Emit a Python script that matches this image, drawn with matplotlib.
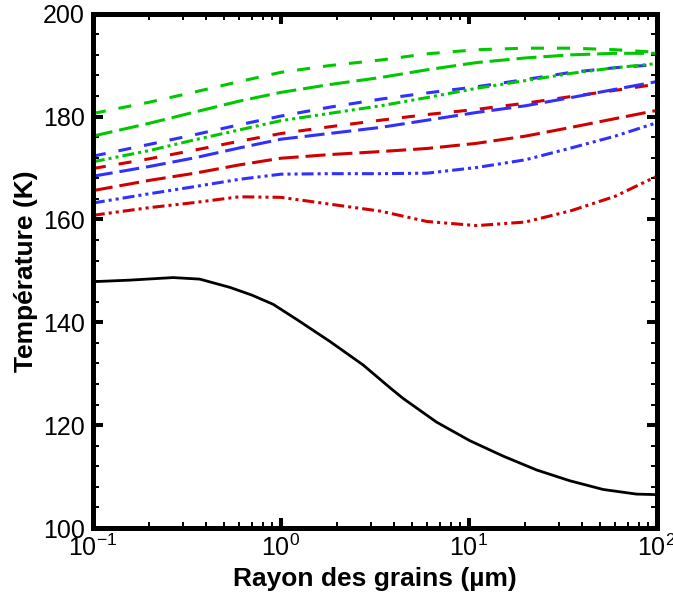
import matplotlib
matplotlib.use("Agg")
import matplotlib.pyplot as plt
from matplotlib.ticker import LogLocator, MultipleLocator, NullFormatter

plt.rcParams['font.family'] = ['Liberation Sans', 'DejaVu Sans']
plt.rcParams['mathtext.fontset'] = 'custom'
plt.rcParams['mathtext.rm'] = 'Liberation Sans'
plt.rcParams['axes.unicode_minus'] = False
plt.rcParams['lines.scale_dashes'] = False

# grain radius (micrometres) for the coloured curves
radius = [0.1, 0.2, 0.35, 0.6, 1.0, 1.8, 3.4, 6.0, 11.0, 20.0, 35.0, 60.0, 100.0]

# temperatures (K)
t_green_short = [180.6, 182.8, 184.8, 186.8, 188.6, 189.9, 191.0, 192.2, 193.0, 193.3, 193.3, 193.0, 192.5]
t_green_long = [176.2, 178.7, 180.9, 183.0, 184.7, 186.2, 187.6, 189.1, 190.5, 191.4, 192.0, 192.3, 192.3]
t_blue_short = [172.3, 174.6, 176.5, 178.4, 180.1, 181.8, 183.4, 184.6, 185.8, 187.2, 188.6, 189.5, 190.1]
t_green_dd = [171.2, 173.4, 175.5, 177.4, 179.2, 180.6, 182.1, 183.7, 185.5, 187.0, 188.4, 189.5, 190.3]
t_red_short = [169.9, 171.8, 173.5, 175.2, 176.7, 178.0, 179.3, 180.4, 181.4, 182.6, 183.9, 185.1, 186.3]
t_blue_long = [168.4, 170.3, 172.0, 173.9, 175.6, 176.7, 177.9, 179.3, 180.8, 182.1, 183.7, 185.3, 186.8]
t_red_long = [165.6, 167.6, 169.0, 170.6, 171.9, 172.6, 173.2, 173.8, 174.8, 176.2, 177.9, 179.6, 181.2]
t_blue_dd = [163.2, 165.0, 166.4, 167.8, 168.8, 168.9, 168.9, 169.0, 170.1, 171.6, 173.9, 176.2, 178.8]
t_red_dd = [160.8, 162.3, 163.3, 164.4, 164.3, 163.0, 161.6, 159.6, 158.8, 159.5, 161.7, 164.5, 168.4]

# black solid curve, read at its own radii
radius_black = [0.1, 0.157, 0.267, 0.37, 0.535, 0.7, 0.91, 1.21, 1.82, 2.74, 3.8, 4.47,
                6.73, 10.1, 15.2, 22.9, 34.4, 51.8, 78.0, 100.0]
t_black = [147.9, 148.2, 148.7, 148.4, 146.8, 145.3, 143.5, 140.6, 136.3, 131.7, 127.3, 125.2,
           120.6, 117.0, 114.0, 111.3, 109.2, 107.5, 106.6, 106.5]

green = '#00c800'
blue = '#3030ff'
red = '#d00000'

short_dash = (0, (9.4, 9.4))
long_dash = (0, (14.4, 5.0))
dash_dot_dot = (0, (8.6, 2.9, 2.2, 2.9, 2.2, 2.9))

series = [
    (t_green_short, green, short_dash),
    (t_green_long, green, long_dash),
    (t_blue_short, blue, short_dash),
    (t_green_dd, green, dash_dot_dot),
    (t_red_short, red, short_dash),
    (t_blue_long, blue, long_dash),
    (t_red_long, red, long_dash),
    (t_blue_dd, blue, dash_dot_dot),
    (t_red_dd, red, dash_dot_dot),
]

fig = plt.figure(figsize=(6.73, 5.96), dpi=100)
ax = fig.add_axes([0.138, 0.114, 0.838, 0.863])

for temps, color, style in series:
    ax.plot(radius, temps, color=color, linestyle=style, linewidth=2.2)
ax.plot(radius_black, t_black, color='black', linewidth=2.0)

ax.set_xscale('log')
ax.set_xlim(0.1, 100)
ax.set_ylim(100, 200)
ax.yaxis.set_major_locator(MultipleLocator(20))
ax.yaxis.set_minor_locator(MultipleLocator(4))
ax.xaxis.set_major_locator(LogLocator(base=10))
ax.xaxis.set_minor_locator(LogLocator(base=10, subs=range(2, 10)))
ax.xaxis.set_minor_formatter(NullFormatter())

for sp in ax.spines.values():
    sp.set_linewidth(3.6)

ax.tick_params(which='both', direction='in', top=True, right=True)
ax.tick_params(which='major', length=7.5, width=2.9, labelsize=18)
ax.tick_params(axis='x', which='major', pad=5)
ax.tick_params(axis='y', which='major', pad=6)
ax.tick_params(which='minor', length=4, width=1.4)

ax.set_xlabel('Rayon des grains (µm)', fontsize=19, fontweight='bold', labelpad=4)
ax.set_ylabel('Température (K)', fontsize=19, fontweight='bold', labelpad=3)

fig.savefig('out.png', dpi=100)
